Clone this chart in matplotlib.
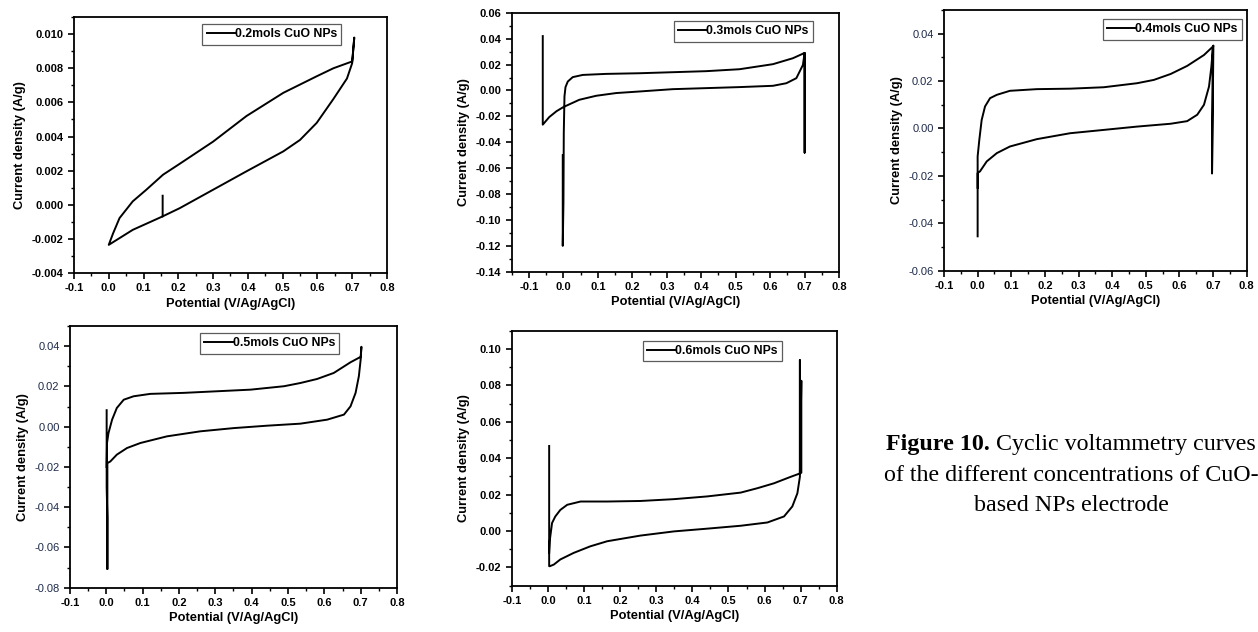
import matplotlib
matplotlib.use("Agg")
import matplotlib.pyplot as plt
from matplotlib.ticker import MultipleLocator, FormatStrFormatter

plt.rcParams['font.family'] = ['Liberation Sans', 'DejaVu Sans']
plt.rcParams['axes.unicode_minus'] = False

# CV loops, in drawing order (potential V, current density A/g)
cv02_x = [0.155, 0.155, 0.204, 0.300, 0.396, 0.502, 0.550, 0.598, 0.646, 0.685, 0.700, 0.706, 0.700,
          0.646, 0.598, 0.502, 0.396, 0.300, 0.204, 0.156, 0.108, 0.069, 0.031, 0.012, 0.000, 0.069, 0.155]
cv02_y = [0.00053, -0.00068, -0.0002, 0.00088, 0.00196, 0.00313, 0.0038, 0.0048, 0.0062, 0.0074, 0.0083, 0.0098, 0.0084,
          0.0080, 0.00753, 0.00656, 0.0052, 0.0037, 0.0024, 0.00176, 0.00088, 0.0002, -0.00078, -0.0017, -0.00235, -0.00147, -0.00068]

cv03_x = [-0.060, -0.060, -0.041, -0.020, 0.000, 0.046, 0.095, 0.153, 0.220, 0.317, 0.414, 0.511, 0.608, 0.647, 0.676,
          0.695, 0.700, 0.700, 0.700, 0.666, 0.608, 0.511, 0.414, 0.317, 0.220, 0.124, 0.056, 0.027, 0.0126, 0.006,
          0.003, 0.001, 0.000, -0.002, -0.002]
cv03_y = [0.042, -0.0264, -0.0205, -0.016, -0.0128, -0.0072, -0.0041, -0.0020, -0.0008, 0.0010, 0.0018, 0.0026, 0.0036,
          0.0056, 0.0095, 0.0197, 0.029, -0.048, 0.029, 0.0249, 0.0203, 0.0164, 0.0149, 0.0141, 0.0133, 0.0128, 0.0120,
          0.0103, 0.0069, 0.0026, -0.0046, -0.033, -0.0867, -0.120, -0.050]

cv04_x = [0.000, 0.000, 0.007, 0.027, 0.057, 0.096, 0.176, 0.275, 0.375, 0.474, 0.574, 0.623, 0.653, 0.673, 0.688,
          0.695, 0.700, 0.701, 0.697, 0.699, 0.673, 0.623, 0.574, 0.524, 0.474, 0.375, 0.275, 0.176, 0.096, 0.057,
          0.037, 0.022, 0.012, 0.005, 0.000, 0.000]
cv04_y = [-0.0455, -0.0188, -0.0181, -0.0139, -0.0104, -0.0076, -0.0045, -0.0020, -0.0006, 0.0008, 0.0020, 0.0031,
          0.0058, 0.0100, 0.0177, 0.0261, 0.0345, 0.0350, -0.019, 0.0345, 0.0310, 0.0264, 0.0230, 0.0205, 0.0191,
          0.0174, 0.0168, 0.0166, 0.0159, 0.0142, 0.0128, 0.0093, 0.0036, -0.0048, -0.0118, -0.025]

cv05_x = [0.001, 0.001, 0.003, 0.003, 0.003, 0.011, 0.029, 0.057, 0.094, 0.167, 0.259, 0.351, 0.443, 0.534, 0.608,
          0.654, 0.672, 0.686, 0.695, 0.700, 0.702, 0.700, 0.672, 0.626, 0.580, 0.534, 0.489, 0.397, 0.305, 0.213,
          0.121, 0.075, 0.048, 0.029, 0.016, 0.006, 0.002, 0.001]
cv05_y = [0.0082, -0.030, -0.045, -0.0707, -0.0181, -0.0173, -0.0139, -0.0106, -0.0081, -0.0048, -0.0023, -0.0007,
          0.0005, 0.0015, 0.0035, 0.0060, 0.0101, 0.0168, 0.0251, 0.0334, 0.0397, 0.0347, 0.0320, 0.0267, 0.0237,
          0.0217, 0.0201, 0.0184, 0.0176, 0.0168, 0.0163, 0.0151, 0.0134, 0.0093, 0.0035, -0.0032, -0.0081, -0.020]

cv06_x = [0.003, 0.003, 0.005, 0.016, 0.034, 0.071, 0.117, 0.164, 0.256, 0.349, 0.441, 0.534, 0.608, 0.654, 0.677,
          0.691, 0.698, 0.698, 0.698, 0.702, 0.702, 0.698, 0.673, 0.626, 0.580, 0.534, 0.441, 0.349, 0.256, 0.164,
          0.090, 0.053, 0.034, 0.020, 0.011, 0.005, 0.003]
cv06_y = [0.0467, -0.0193, -0.0193, -0.0184, -0.0156, -0.0120, -0.0084, -0.0056, -0.0025, -0.0002, 0.0013, 0.0029,
          0.0047, 0.0080, 0.0135, 0.0207, 0.0298, 0.0938, 0.0316, 0.0320, 0.0825, 0.0316, 0.0298, 0.0262, 0.0235,
          0.0211, 0.0190, 0.0175, 0.0165, 0.0162, 0.0162, 0.0144, 0.0116, 0.0080, 0.0044, -0.0047, -0.012]

labels = ["0.2mols CuO NPs", "0.3mols CuO NPs", "0.4mols CuO NPs", "0.5mols CuO NPs", "0.6mols CuO NPs"]
ylims = [(-0.004, 0.011), (-0.14, 0.06), (-0.06, 0.05), (-0.08, 0.05), (-0.03, 0.11)]
xlims = [(-0.1, 0.8), (-0.15, 0.8), (-0.1, 0.8), (-0.1, 0.8), (-0.1, 0.8)]
ysteps = [0.002, 0.02, 0.02, 0.02, 0.02]
yfmts = ['%.3f', '%.2f', '%.2f', '%.2f', '%.2f']

fig = plt.figure(figsize=(12.58, 6.32), dpi=100)

positions = [
    [0.0588, 0.568, 0.2488, 0.405],
    [0.4068, 0.570, 0.2602, 0.4098],
    [0.7504, 0.5717, 0.2406, 0.4125],
    [0.0556, 0.0701, 0.2600, 0.414],
    [0.4070, 0.0733, 0.2581, 0.4035],
]
legend_anchor = [(0.41, 0.973), (0.496, 0.968), (0.525, 0.965), (0.398, 0.973), (0.403, 0.96)]
ytick_bold = [True, True, False, False, True]
navy = '#1e2b4a'

series = [(cv02_x, cv02_y), (cv03_x, cv03_y), (cv04_x, cv04_y), (cv05_x, cv05_y), (cv06_x, cv06_y)]

for i, (xs, ys) in enumerate(series):
    ax = fig.add_axes(positions[i])
    ax.plot(xs, ys, color='black', lw=1.4, label=labels[i])
    ax.set_xlim(*xlims[i])
    ax.set_ylim(*ylims[i])
    ax.xaxis.set_major_locator(MultipleLocator(0.1))
    ax.xaxis.set_minor_locator(MultipleLocator(0.05))
    ax.yaxis.set_major_locator(MultipleLocator(ysteps[i]))
    ax.yaxis.set_minor_locator(MultipleLocator(ysteps[i] / 2))
    ax.xaxis.set_major_formatter(FormatStrFormatter('%.1f'))
    ax.yaxis.set_major_formatter(FormatStrFormatter(yfmts[i]))
    ax.tick_params(which='major', direction='out', length=4, width=1.2, top=False, right=False)
    ax.tick_params(which='minor', direction='out', length=2.5, width=1.0, top=False, right=False)
    for lab in ax.get_xticklabels():
        lab.set_fontsize(8)
        lab.set_fontweight('bold')
    for lab in ax.get_yticklabels():
        lab.set_fontsize(8)
        if ytick_bold[i]:
            lab.set_fontweight('bold')
        else:
            lab.set_color(navy)
    for sp in ax.spines.values():
        sp.set_linewidth(1.3)
    ax.set_xlabel("Potential (V/Ag/AgCl)", fontsize=9.3, fontweight='bold', labelpad=3)
    ax.set_ylabel("Current density (A/g)", fontsize=9.3, fontweight='bold', labelpad=4)
    leg = ax.legend(loc='upper left', bbox_to_anchor=legend_anchor[i], borderaxespad=0,
                    fancybox=False, handlelength=2.3, handletextpad=0.0, borderpad=0.35,
                    prop={'weight': 'bold', 'size': 8.8})
    leg.get_frame().set_edgecolor('#333333')
    leg.get_frame().set_linewidth(0.9)

# caption, centred on x ~ 1070 px
cx = 1071 / 1258
cap_font = ['Liberation Serif', 'DejaVu Serif']
fig.canvas.draw()
renderer = fig.canvas.get_renderer()
t_bold = fig.text(0, 0.296, "Figure 10.", fontsize=17.3, fontweight='bold', family=cap_font, va='center')
t_rest = fig.text(0, 0.296, " Cyclic voltammetry curves", fontsize=17.3, family=cap_font, va='center')
w1 = t_bold.get_window_extent(renderer).width / fig.bbox.width
w2 = t_rest.get_window_extent(renderer).width / fig.bbox.width
x0 = cx - (w1 + w2) / 2
t_bold.set_x(x0)
t_rest.set_x(x0 + w1)
fig.text(cx, 0.247, "of the different concentrations of CuO-", fontsize=17.3, family=cap_font, ha='center', va='center')
fig.text(cx, 0.200, "based NPs electrode", fontsize=17.3, family=cap_font, ha='center', va='center')

fig.savefig("out.png", dpi=100)
